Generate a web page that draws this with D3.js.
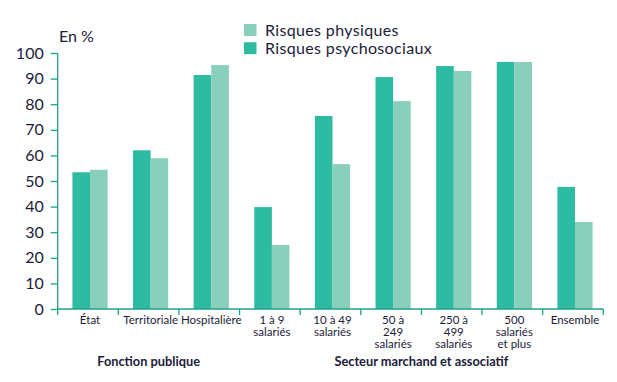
<!DOCTYPE html>
<html>
<head>
<meta charset="utf-8">
<script src="https://cdn.jsdelivr.net/npm/d3@7"></script>
<style>
  body { margin: 0; background: #fff; }
  text { font-family: Lato, "Noto Sans", sans-serif; fill: #1c1b3a; }
</style>
</head>
<body>
<div id="chart"></div>
<script>
// categories (multi-line labels split on "|")
const categories = ["État", "Territoriale", "Hospitalière", "1 à 9|salariés", "10 à 49|salariés",
  "50 à|249|salariés", "250 à|499|salariés", "500|salariés|et plus", "Ensemble"];
const psychosociaux = [53.4, 62, 91.4, 39.8, 75.4, 90.6, 94.9, 96.5, 47.7];
const physiques = [54.4, 58.9, 95.3, 25, 56.6, 81.2, 93, 96.5, 34];
const yTicks = [0, 10, 20, 30, 40, 50, 60, 70, 80, 90, 100];
const groups = [
  { label: "Fonction publique", from: 0, to: 2 },
  { label: "Secteur marchand et associatif", from: 3, to: 8 }
];

let width = 617,
  height = 382;

const darkColor = "#2dbba1",
  lightColor = "#8acfbc",
  axisColor = "#1ea486";

let svg = d3.select("#chart").append("svg")
  .attr("width", width)
  .attr("height", height);

let x = d3.scaleBand()
  .domain(categories)
  .range([57.7, 603.3])
  .padding(0);

let y = d3.scaleLinear()
  .domain([0, 100])
  .range([309, 53]);

let barW = 17.6;

// y axis
let yAxis = svg.append("g")
  .attr("transform", "translate(57.7,0)")
  .call(d3.axisLeft(y).tickValues(yTicks).tickSize(7).tickPadding(7));
yAxis.select(".domain").attr("stroke", axisColor).attr("stroke-width", 1.3)
  .attr("d", "M0," + y(100) + "V" + y(0));
yAxis.selectAll(".tick line").attr("stroke", axisColor).attr("stroke-width", 1.3);
yAxis.selectAll(".tick text")
  .attr("font-size", "16px")
  .attr("fill", "#1c1b3a")
  .attr("font-family", "Lato, 'Noto Sans', sans-serif");

svg.append("text")
  .attr("x", 59)
  .attr("y", 41.5)
  .attr("font-size", "16px")
  .text("En %");

// bars
let bars = svg.append("g");
bars.selectAll("rect.psy")
  .data(categories)
  .enter()
  .append("rect")
  .attr("class", "psy")
  .attr("x", d => x(d) + x.bandwidth() / 2 + 2 - barW)
  .attr("width", barW)
  .attr("y", (d, i) => y(psychosociaux[i]))
  .attr("height", (d, i) => y(0) - y(psychosociaux[i]))
  .attr("fill", darkColor);

bars.selectAll("rect.phy")
  .data(categories)
  .enter()
  .append("rect")
  .attr("class", "phy")
  .attr("x", d => x(d) + x.bandwidth() / 2 + 2)
  .attr("width", barW)
  .attr("y", (d, i) => y(physiques[i]))
  .attr("height", (d, i) => y(0) - y(physiques[i]))
  .attr("fill", lightColor);

// x axis
let xAxis = svg.append("g");
xAxis.append("line")
  .attr("x1", x.range()[0]).attr("x2", x.range()[1])
  .attr("y1", y(0)).attr("y2", y(0))
  .attr("stroke", axisColor).attr("stroke-width", 1.3);

let edges = categories.map(d => x(d)).concat([x.range()[1]]);
xAxis.selectAll("line.tick")
  .data(edges)
  .enter()
  .append("line")
  .attr("class", "tick")
  .attr("x1", d => d).attr("x2", d => d)
  .attr("y1", y(0)).attr("y2", y(0) + 6)
  .attr("stroke", axisColor).attr("stroke-width", 1.3);

let labels = xAxis.selectAll("text.cat")
  .data(categories)
  .enter()
  .append("text")
  .attr("class", "cat")
  .attr("text-anchor", "middle")
  .attr("font-size", "11.5px")
  .attr("transform", d => "translate(" + (x(d) + x.bandwidth() / 2 + 2) + ",324)");

labels.selectAll("tspan")
  .data(d => d.split("|"))
  .enter()
  .append("tspan")
  .attr("x", 0)
  .attr("y", (d, i) => i * 11.8)
  .text(d => d);

svg.append("g").selectAll("text")
  .data(groups)
  .enter()
  .append("text")
  .attr("x", d => (x(categories[d.from]) + x(categories[d.to]) + x.bandwidth()) / 2)
  .attr("y", 366)
  .attr("text-anchor", "middle")
  .attr("font-size", "12.8px")
  .attr("font-weight", "bold")
  .text(d => d.label);

// legend
let legend = svg.append("g").attr("transform", "translate(244,24)");
let legendItems = [
  { label: "Risques physiques", color: lightColor },
  { label: "Risques psychosociaux", color: darkColor }
];
let li = legend.selectAll("g")
  .data(legendItems)
  .enter()
  .append("g")
  .attr("transform", (d, i) => "translate(0," + i * 18.2 + ")");
li.append("rect")
  .attr("width", 12.5)
  .attr("height", 12)
  .attr("fill", d => d.color);
li.append("text")
  .attr("x", 21)
  .attr("y", 11.5)
  .attr("font-size", "16px")
  .attr("letter-spacing", "0.35px")
  .text(d => d.label);
</script>
</body>
</html>
